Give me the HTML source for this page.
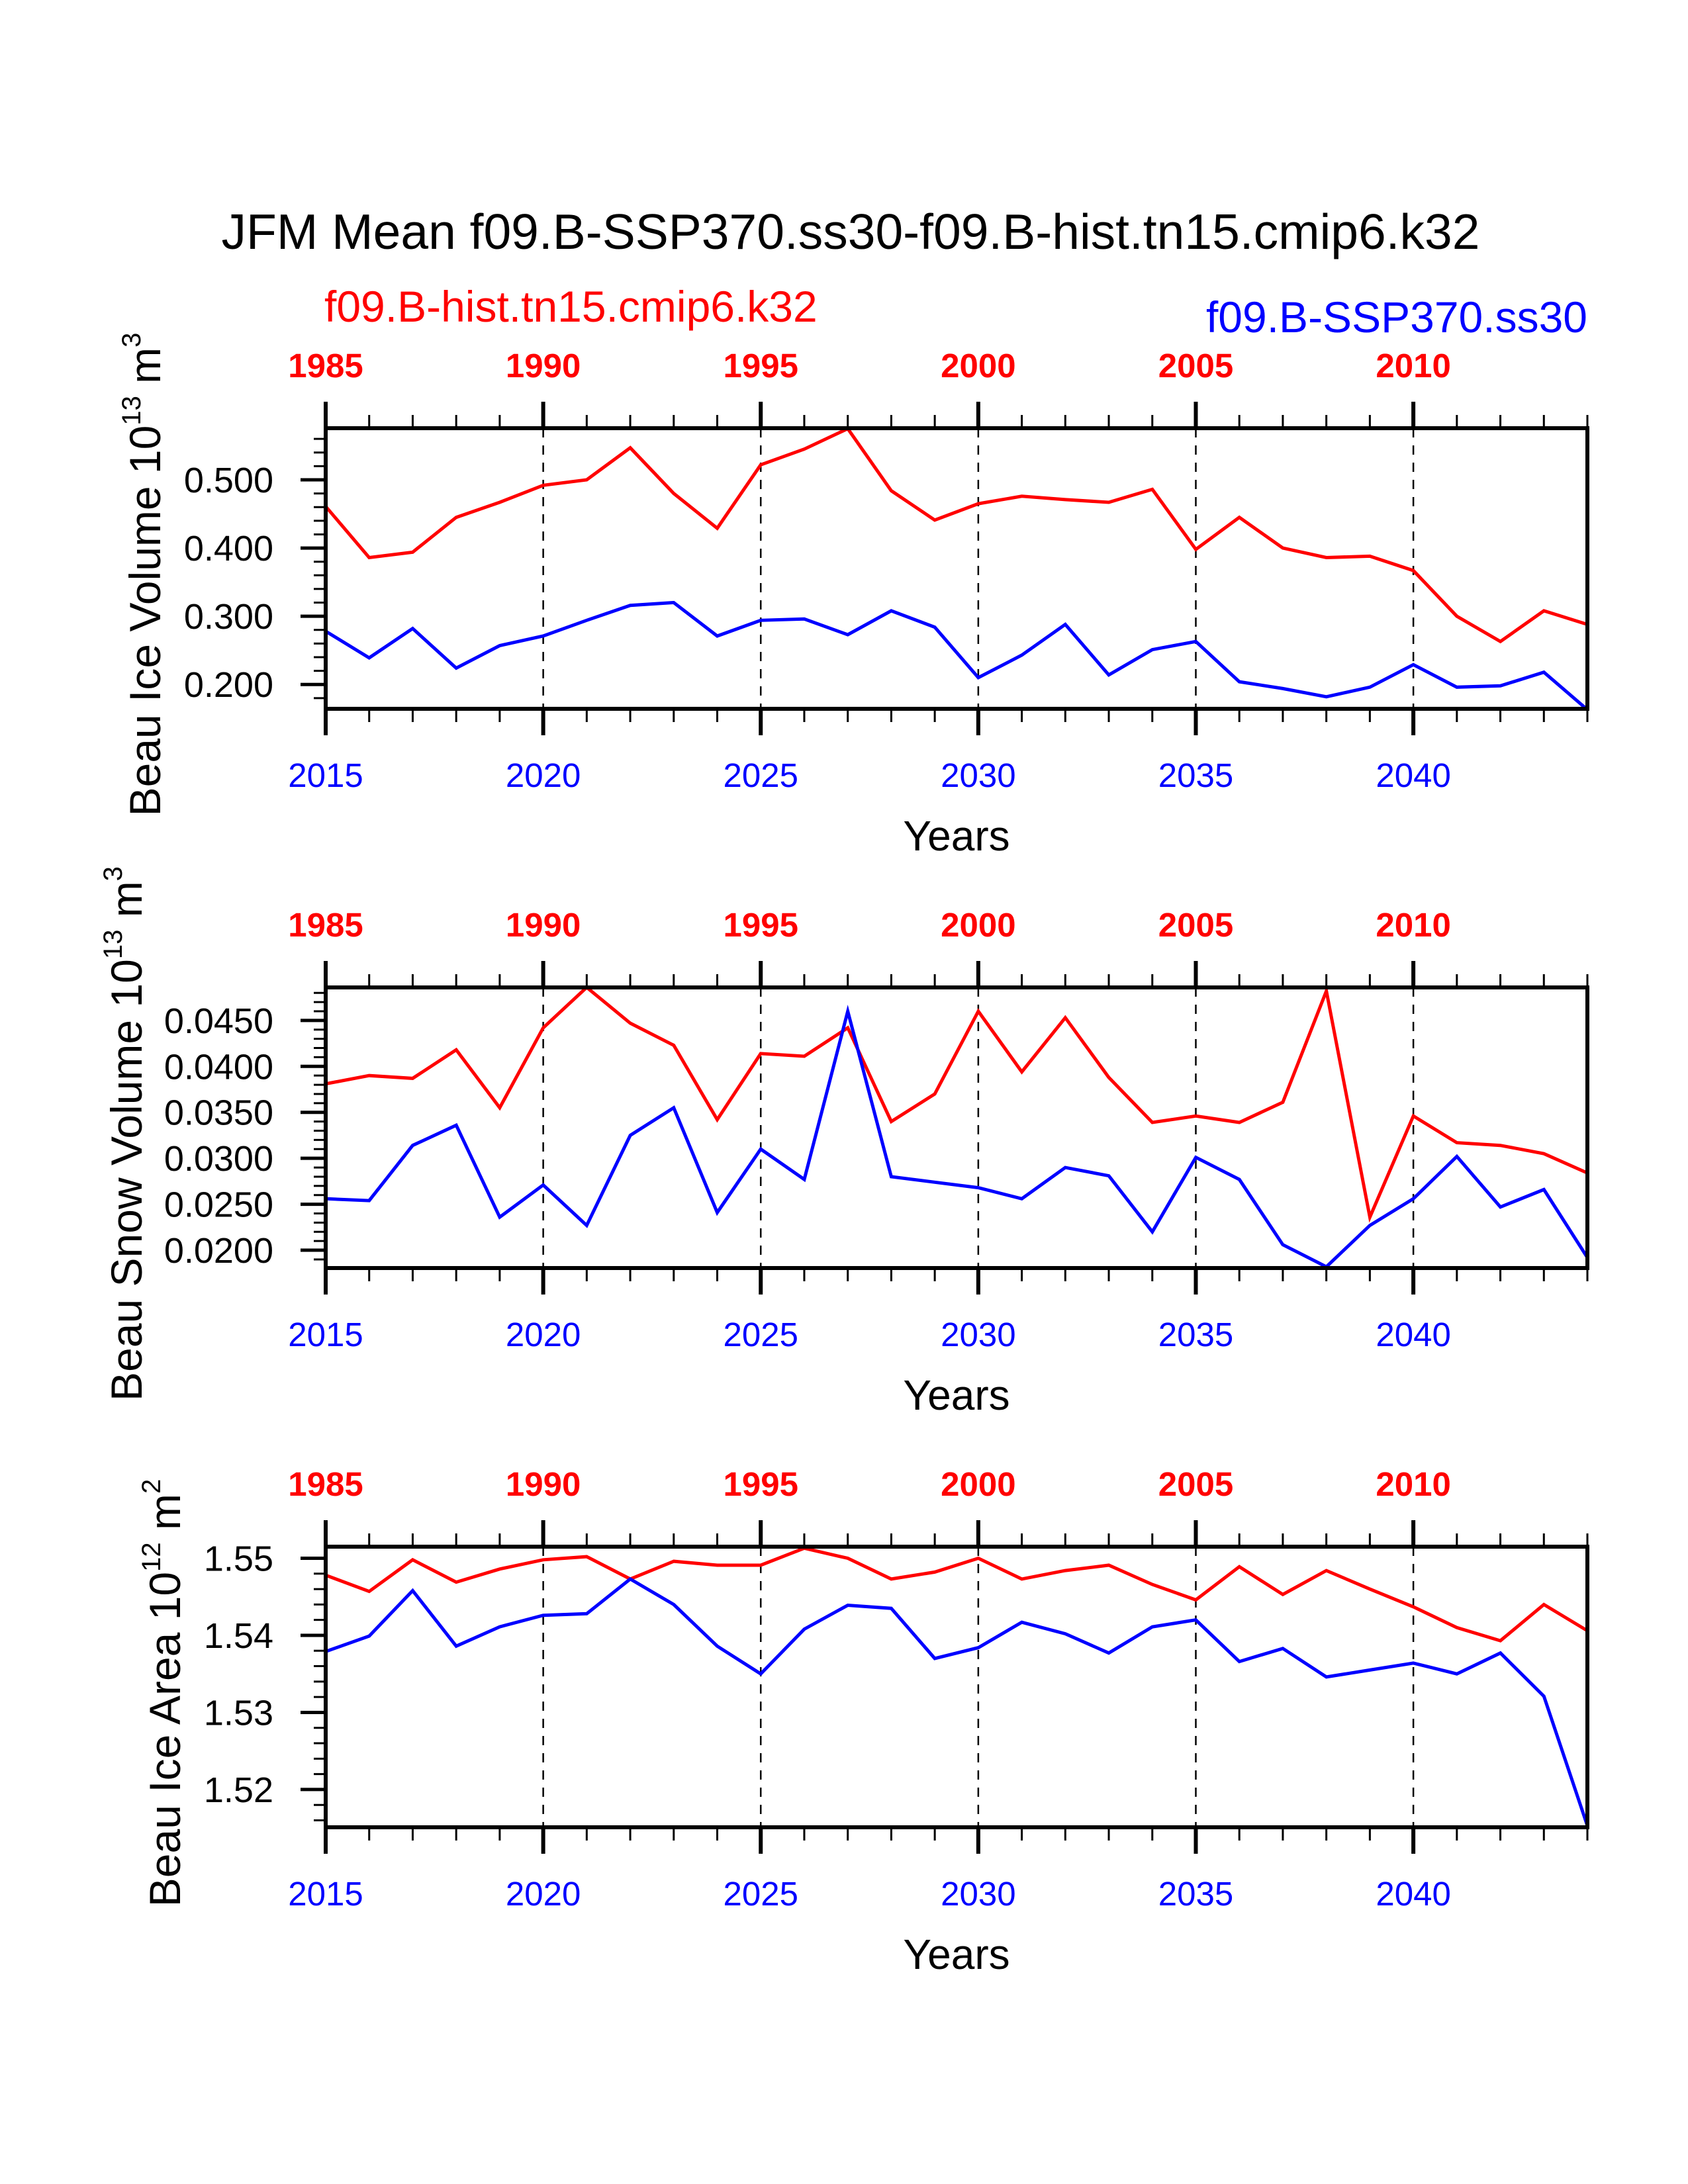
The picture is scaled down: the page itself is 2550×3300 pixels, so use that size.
<!DOCTYPE html>
<html><head><meta charset="utf-8">
<style>
html,body{margin:0;padding:0;background:#fff;}
svg{display:block;font-family:"Liberation Sans",sans-serif;}
</style></head>
<body>
<svg id="chart" width="2550" height="3300" viewBox="0 0 2550 3300" xmlns="http://www.w3.org/2000/svg">
<rect width="2550" height="3300" fill="#fff"/>
<text x="1285" y="376" font-size="75" text-anchor="middle" fill="#000">JFM Mean f09.B-SSP370.ss30-f09.B-hist.tn15.cmip6.k32</text>
<text x="490" y="486" font-size="66" fill="#f00">f09.B-hist.tn15.cmip6.k32</text>
<text x="2398" y="502" font-size="66" text-anchor="end" fill="#00f">f09.B-SSP370.ss30</text>
</svg>
<script>
const years = [2015,2016,2017,2018,2019,2020,2021,2022,2023,2024,2025,2026,2027,2028,2029,2030,2031,2032,2033,2034,2035,2036,2037,2038,2039,2040,2041,2042,2043,2044];
const bottomTicks = ["2015","2020","2025","2030","2035","2040"];
const topTicks = ["1985","1990","1995","2000","2005","2010"];
const iceVolRed = [.461,.386,.394,.445,.467,.492,.500,.547,.480,.429,.522,.545,.575,.484,.441,.465,.476,.471,.467,.486,.398,.445,.400,.386,.388,.367,.300,.263,.308,.288];
const iceVolBlue = [.278,.239,.282,.224,.257,.271,.294,.316,.320,.271,.294,.296,.273,.308,.284,.210,.243,.288,.214,.251,.263,.204,.194,.182,.196,.229,.196,.198,.218,.163];
const snowRed = [.0381,.0390,.0387,.0418,.0355,.0442,.0486,.0447,.0423,.0342,.0414,.0411,.0442,.0340,.0370,.0460,.0394,.0453,.0388,.0339,.0346,.0339,.0361,.0482,.0236,.0346,.0317,.0314,.0305,.0284];
const snowBlue = [.0256,.0254,.0314,.0336,.0236,.0271,.0227,.0325,.0355,.0241,.0310,.0277,.0460,.0280,.0274,.0268,.0256,.0290,.0281,.0220,.0301,.0277,.0206,.0182,.0227,.0256,.0302,.0247,.0266,.0192];
const areaRed = [1.5478,1.5457,1.5498,1.5469,1.5486,1.5498,1.5502,1.5473,1.5496,1.5491,1.5491,1.5513,1.5500,1.5473,1.5482,1.5500,1.5473,1.5484,1.5491,1.5466,1.5446,1.5489,1.5453,1.5484,1.5460,1.5437,1.5410,1.5393,1.5440,1.5406];
const areaBlue = [1.5379,1.5399,1.5458,1.5386,1.5411,1.5426,1.5428,1.5473,1.5440,1.5386,1.5350,1.5408,1.5439,1.5435,1.5370,1.5384,1.5417,1.5402,1.5377,1.5411,1.5420,1.5366,1.5383,1.5346,1.5355,1.5364,1.5350,1.5377,1.5321,1.5153];
const iceVolTicks = ["0.500","0.400","0.300","0.200"];
const snowTicks = ["0.0450","0.0400","0.0350","0.0300","0.0250","0.0200"];
const areaTicks = ["1.55","1.54","1.53","1.52"];

const NS="http://www.w3.org/2000/svg";
const svg=document.getElementById('chart');
function mk(tag,attrs,parent){const e=document.createElementNS(NS,tag);for(const k in attrs)e.setAttribute(k,attrs[k]);(parent||svg).appendChild(e);return e;}

const X0=492,X1=2398,H=424;
function xs(yr){return X0+(yr-2015)*(X1-X0)/29;}

function panel(name,top,ymin,ymax,red,blue,ticks,minorStep,titleMain,exp,unit,titleX){
  const g=mk('g',{});
  
  
  const bot=top+H;
  const ys=v=>bot-(v-ymin)/(ymax-ymin)*H;
  for(const t of bottomTicks.slice(1)){const x=xs(+t);
    const l=mk('line',{x1:x,y1:top,x2:x,y2:bot,stroke:'#000','stroke-width':2.5,'stroke-dasharray':'14,12'},g);
    }
  for(const yr of years){const x=xs(yr);const major=(yr%5===0);const L=major?40:20;
    mk('line',{x1:x,y1:top,x2:x,y2:top-L,stroke:'#000','stroke-width':major?6:3},g);
    mk('line',{x1:x,y1:bot,x2:x,y2:bot+L,stroke:'#000','stroke-width':major?6:3},g);}
  mk('line',{x1:X1,y1:top,x2:X1,y2:top-20,stroke:'#000','stroke-width':3},g);
  for(let i=0;i<bottomTicks.length;i++){const x=xs(+bottomTicks[i]);
    const b=mk('text',{x:x,y:bot+118,'font-size':51,'text-anchor':'middle',fill:'#00f'},g);b.textContent=bottomTicks[i];
    
    const t=mk('text',{x:x,y:top-77,'font-size':51,'font-weight':'bold','text-anchor':'middle',fill:'#f00'},g);t.textContent=topTicks[i];
    }
  const eps=1e-9;
  for(let v=Math.ceil(ymin/minorStep-eps)*minorStep;v<=ymax+eps;v+=minorStep){const y=ys(v);
    mk('line',{x1:X0,y1:y,x2:X0-18,y2:y,stroke:'#000','stroke-width':3},g);}
  for(const tl of ticks){const y=ys(+tl);
    mk('line',{x1:X0,y1:y,x2:X0-38,y2:y,stroke:'#000','stroke-width':5},g);
    const t=mk('text',{x:413,y:y+19,'font-size':54,'text-anchor':'end',fill:'#000'},g);t.textContent=tl;
    }
  const pts=arr=>arr.map((v,i)=>xs(years[i]).toFixed(1)+','+ys(v).toFixed(1)).join(' ');
  const cp=mk('clipPath',{id:name+'-clip'},g);mk('rect',{x:X0,y:top-3,width:X1-X0,height:H+6},cp);
  const r=mk('polyline',{points:pts(red),fill:'none',stroke:'#f00','stroke-width':5,'stroke-linejoin':'miter','clip-path':'url(#'+name+'-clip)'},g);
  
  const b=mk('polyline',{points:pts(blue),fill:'none',stroke:'#00f','stroke-width':5,'stroke-linejoin':'miter','clip-path':'url(#'+name+'-clip)'},g);
  
  const f=mk('rect',{x:X0,y:top,width:X1-X0,height:H,fill:'none',stroke:'#000','stroke-width':6},g);
  
  const xt=mk('text',{x:1445,y:bot+214,'font-size':64,'text-anchor':'middle',fill:'#000'},g);xt.textContent='Years';
  
  const cy=top+H/2-1;
  const yt=mk('text',{x:0,y:0,'font-size':66,'text-anchor':'middle',fill:'#000',transform:'translate('+titleX+','+(cy+10)+') rotate(-90)'},g);
  
  const s1=mk('tspan',{},yt);s1.textContent=titleMain+' 10';
  const s2=mk('tspan',{'font-size':40,dy:-30},yt);s2.textContent=exp;
  const s3=mk('tspan',{dy:30},yt);s3.textContent=' m';
  const s4=mk('tspan',{'font-size':40,dy:-30},yt);s4.textContent=unit;
}
panel('ice-volume',647,0.1643,0.5757,iceVolRed,iceVolBlue,iceVolTicks,0.02,'Beau Ice Volume','13','3',242);
panel('snow-volume',1492,0.01806,0.04859,snowRed,snowBlue,snowTicks,0.001,'Beau Snow Volume','13','3',214);
panel('ice-area',2337,1.5151,1.5515,areaRed,areaBlue,areaTicks,0.002,'Beau Ice Area','12','2',272);
</script>
</body></html>
